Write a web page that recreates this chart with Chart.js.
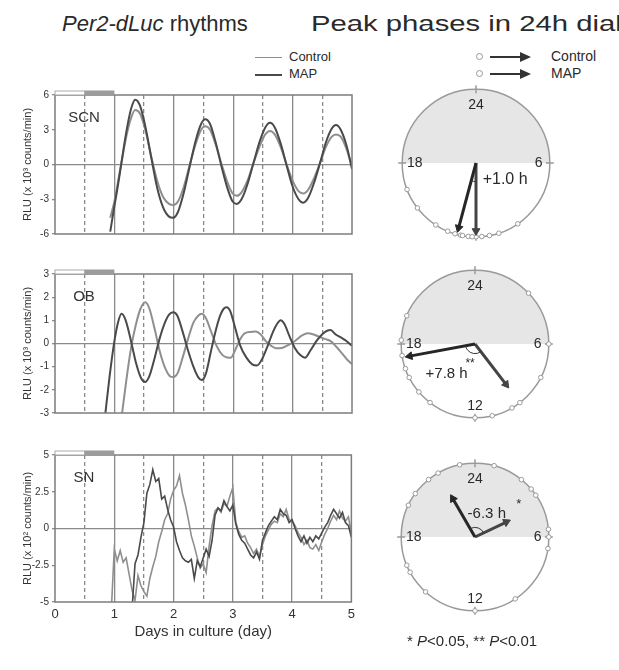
<!DOCTYPE html>
<html>
<head>
<meta charset="utf-8">
<script src="https://cdn.jsdelivr.net/npm/chart.js@4.4.0/dist/chart.umd.min.js"></script>
<style>
  body { margin: 0; width: 619px; height: 670px; background: #fff; position: relative; overflow: hidden;
         font-family: "Liberation Sans", Arial, sans-serif; color: #2a2a2a; }
  canvas { position: absolute; }
  .txt { position: absolute; white-space: nowrap; }
  .line { position: absolute; height: 0; }
  .dot { position: absolute; width: 5px; height: 5px; border: 1px solid #999; border-radius: 50%; }
  .arr { position: absolute; width: 31px; height: 2px; background: #333; }
  .arr::after { content: ''; position: absolute; right: -10px; top: -4px; border-left: 11px solid #333;
                border-top: 5px solid transparent; border-bottom: 5px solid transparent; }
</style>
</head>
<body>
<div class="txt" style="left:62px; top:11px; font-size:22px;"><i>Per2-dLuc</i> rhythms</div>
<div class="txt" style="left:311px; top:11px; font-size:22px; transform:scaleX(1.33); transform-origin:0 0;">Peak phases in 24h dial</div>

<div class="line" style="left:255px; top:57px; width:27px; border-top:1.5px solid #8f8f8f;"></div>
<div class="txt" style="left:289px; top:49px; font-size:13px;">Control</div>
<div class="line" style="left:255px; top:74px; width:27px; border-top:2px solid #4a4a4a;"></div>
<div class="txt" style="left:289px; top:66px; font-size:13px;">MAP</div>

<div class="dot" style="left:476px; top:53px;"></div>
<div class="arr" style="left:490px; top:56px;"></div>
<div class="txt" style="left:551px; top:48px; font-size:14px;">Control</div>
<div class="dot" style="left:476px; top:70px;"></div>
<div class="arr" style="left:490px; top:73px;"></div>
<div class="txt" style="left:551px; top:65px; font-size:14px;">MAP</div>

<canvas id="scn" width="360" height="158" style="left:0; top:85px;"></canvas>
<canvas id="ob" width="360" height="158" style="left:0; top:264px;"></canvas>
<canvas id="sn" width="360" height="200" style="left:0; top:445px;"></canvas>

<canvas id="dialScn" width="200" height="200" style="left:376px; top:63px;"></canvas>
<canvas id="dialOb" width="200" height="200" style="left:375px; top:244px;"></canvas>
<canvas id="dialSn" width="200" height="200" style="left:375px; top:437px;"></canvas>

<div class="txt" style="left:407px; top:632px; font-size:15px;">* <i>P</i>&lt;0.05, ** <i>P</i>&lt;0.01</div>

<script>
// --- traces (days in culture, RLU) ---
const dayTicks = [0, 0.5, 1, 1.5, 2, 2.5, 3, 3.5, 4, 4.5, 5];
const lightPhase = [0, 0.5];
const darkPhase = [0.5, 1];

const scnTicks = [-6, -3, 0, 3, 6];
const scnControlDays = [0.93, 1.00, 1.06, 1.12, 1.20, 1.28, 1.35, 1.43, 1.52, 1.62, 1.72, 1.82, 1.92, 1.99, 2.07, 2.17,
  2.27, 2.37, 2.46, 2.53, 2.61, 2.70, 2.80, 2.90, 2.99, 3.06, 3.14, 3.24, 3.34, 3.44, 3.54, 3.62, 3.70, 3.80, 3.90,
  4.00, 4.10, 4.18, 4.26, 4.36, 4.46, 4.56, 4.66, 4.73, 4.81, 4.91, 5.00];
const scnControl = [-4.6, -3.2, -1.5, 0.2, 2.4, 4.0, 4.7, 4.4, 3.0, 0.7, -1.4, -2.8, -3.4, -3.5, -3.2, -1.9,
  0.0, 1.8, 3.0, 3.3, 3.0, 1.8, 0.1, -1.5, -2.5, -2.7, -2.4, -1.4, 0.1, 1.5, 2.6, 2.9, 2.6, 1.5, 0.0,
  -1.4, -2.3, -2.5, -2.2, -1.2, 0.1, 1.5, 2.4, 2.6, 2.4, 1.3, -0.2];
const scnMapDays = scnControlDays;
const scnMap = [-5.8, -3.6, -1.8, 0.2, 2.8, 4.8, 5.6, 5.1, 3.3, 0.6, -2.0, -3.7, -4.5, -4.6, -4.1, -2.4,
  -0.1, 2.1, 3.5, 3.9, 3.5, 2.0, -0.1, -2.0, -3.2, -3.4, -3.0, -1.7, 0.1, 1.9, 3.2, 3.6, 3.2, 1.8, -0.1,
  -1.9, -3.0, -3.3, -2.9, -1.6, 0.1, 1.9, 3.1, 3.4, 3.0, 1.6, -0.4];

const obTicks = [-3, -2, -1, 0, 1, 2, 3];
const obControlDays = [1.12, 1.20, 1.28, 1.36, 1.44, 1.52, 1.59, 1.68, 1.77, 1.86, 1.93, 1.99, 2.06, 2.15, 2.24,
  2.33, 2.41, 2.47, 2.54, 2.63, 2.72, 2.82, 2.90, 2.96, 3.03, 3.12, 3.20, 3.30, 3.38, 3.46, 3.55, 3.64, 3.72,
  3.82, 3.90, 3.98, 4.06, 4.16, 4.26, 4.34, 4.44, 4.54, 4.64, 4.74, 4.84, 4.92, 5.00];
const obControl = [-3.2, -1.6, -0.2, 0.8, 1.5, 1.78, 1.5, 0.6, -0.4, -1.1, -1.4, -1.45, -1.3, -0.6, 0.2,
  0.9, 1.2, 1.28, 1.1, 0.5, -0.1, -0.5, -0.6, -0.61, -0.3, 0.2, 0.45, 0.5, 0.52, 0.4, 0.1, -0.1, -0.2,
  -0.19, -0.1, 0.0, 0.15, 0.35, 0.44, 0.4, 0.3, 0.2, 0.1, -0.15, -0.45, -0.7, -0.89];
const obMapDays = [0.84, 0.92, 1.00, 1.06, 1.12, 1.19, 1.28, 1.37, 1.45, 1.52, 1.59, 1.68, 1.76, 1.85, 1.92,
  1.99, 2.06, 2.15, 2.24, 2.33, 2.41, 2.47, 2.54, 2.62, 2.70, 2.78, 2.84, 2.89, 2.95, 3.03, 3.12, 3.22,
  3.32, 3.40, 3.48, 3.58, 3.67, 3.74, 3.80, 3.86, 3.95, 4.04, 4.13, 4.21, 4.30, 4.40, 4.50, 4.58, 4.64,
  4.72, 4.82, 4.91, 5.00];
const obMap = [-3.2, -1.4, 0.1, 0.9, 1.28, 1.0, 0.1, -0.9, -1.5, -1.66, -1.4, -0.6, 0.2, 0.9, 1.25,
  1.35, 1.2, 0.5, -0.3, -1.0, -1.45, -1.58, -1.3, -0.4, 0.5, 1.2, 1.5, 1.57, 1.4, 0.7, -0.1, -0.6,
  -0.9, -0.95, -0.7, -0.1, 0.5, 0.85, 1.0, 0.85, 0.3, -0.2, -0.5, -0.61, -0.3, 0.1, 0.4, 0.55, 0.58,
  0.4, 0.25, 0.1, -0.1];

const snTicks = [-5, -2.5, 0, 2.5, 5];
const snDays = [0.95, 1.00, 1.05, 1.10, 1.15, 1.20, 1.25, 1.30, 1.35, 1.40,
  1.45, 1.50, 1.55, 1.60, 1.65, 1.70, 1.75, 1.80, 1.85, 1.90,
  1.95, 2.00, 2.05, 2.10, 2.15, 2.20, 2.25, 2.30, 2.35, 2.40,
  2.45, 2.50, 2.55, 2.60, 2.65, 2.70, 2.75, 2.80, 2.85, 2.90,
  2.95, 3.00, 3.05, 3.10, 3.15, 3.20, 3.25, 3.30, 3.35, 3.40,
  3.45, 3.50, 3.55, 3.60, 3.65, 3.70, 3.75, 3.80, 3.85, 3.90,
  3.95, 4.00, 4.05, 4.10, 4.15, 4.20, 4.25, 4.30, 4.35, 4.40,
  4.45, 4.50, 4.55, 4.60, 4.65, 4.70, 4.75, 4.80, 4.85, 4.90,
  4.95, 5.00];
const snControl = [-5.6, -1.4, -2.2, -1.5, -2.3, -2.0, -3.1, -4.2, -4.9, -3.2,
  -3.9, -4.3, -4.6, -3.4, -2.6, -1.9, -0.9, -0.2, 0.6, 1.0,
  2.0, 2.6, 2.9, 3.6, 2.4, 1.6, 0.6, -0.5, -1.2, -2.0,
  -2.7, -2.4, -3.0, -1.2, 0.2, 1.2, 1.4, 1.1, 1.7, 1.5,
  2.2, 2.8, 0.4, -0.2, -0.6, -0.5, -1.0, -1.3, -1.7, -1.4,
  -1.9, -1.1, -0.5, -0.1, 0.3, 0.5, 0.4, 1.0, 0.8, 1.3,
  0.6, 0.5, 0.2, -0.3, -0.6, -1.1, -0.8, -1.3, -1.4, -1.1,
  -1.5, -0.9, -0.4, 0.0, 0.5, 0.9, 0.6, 1.2, 0.7, 0.5,
  0.8, -0.3];
const snMap = [null, null, null, null, null, null, null, -5.5, -2.4, -1.8,
  -0.6, 0.4, 2.4, 3.0, 4.0, 3.2, 3.4, 2.0, 2.2, 1.3,
  0.6, 0.1, -0.9, -1.5, -2.0, -2.2, -2.3, -2.1, -3.4, -2.2,
  -2.6, -2.0, -1.4, -1.9, -0.8, 0.9, 1.4, 1.2, 1.9, 1.5,
  1.2, 1.6, 0.3, -0.4, -0.8, -1.0, -1.4, -1.8, -2.0, -1.6,
  -2.1, -0.8, -0.3, 0.2, 0.5, 0.8, 0.6, 1.3, 1.0, 0.9,
  0.4, 0.6, 0.0, -0.5, -0.9, -0.5, -1.0, -0.6, -0.9, -0.5,
  -0.7, -0.3, 0.1, 0.4, 0.9, 1.3, 1.0, 0.7, 1.1, 0.4,
  0.2, -0.6];

// --- peak phases (hours on the 24h dial) ---
const dialScnControlPhases = [9.7, 10.8, 11.3, 11.7, 12.0, 12.4, 12.8];
const dialScnMapPhases = [12.2, 12.7, 13.1, 13.5, 14.2, 15.5, 16.6];
const dialScnMean = { control: 12.0, map: 13.0 };
const dialScnLength = { control: 0.92, map: 0.91 };

const dialObControlPhases = [3.1, 6.0, 7.8, 9.5, 10.0, 11.1, 12.0];
const dialObMapPhases = [14.5, 15.3, 16.2, 16.7, 17.4, 18.2, 19.5];
const dialObMean = { control: 9.5, map: 17.3 };
const dialObLength = { control: 0.69, map: 0.9 };

const dialSnControlPhases = [1.0, 2.6, 3.3, 3.7, 5.6, 6.0, 6.6, 9.8];
const dialSnMapPhases = [12.0, 14.8, 16.1, 16.5, 19.7, 20.4, 21.4, 22.0, 23.2];
const dialSnMean = { control: 4.3, map: 22.0 };
const dialSnLength = { control: 0.47, map: 0.6 };

const controlColor = '#8f8f8f';
const mapColor = '#4a4a4a';
const fontFamily = '"Liberation Sans", Arial, sans-serif';

function pairs(xs, ys) {
  return xs.map((x, i) => ({ x: x, y: ys[i] }));
}

const panelDecor = {
  id: 'panelDecor',
  afterDraw(chart, args, opts) {
    const { ctx, chartArea: a, scales: { x } } = chart;
    ctx.save();
    ctx.strokeStyle = '#7c7c7c';
    ctx.lineWidth = 1.5;
    ctx.strokeRect(a.left, a.top, a.right - a.left, a.bottom - a.top);
    // light / dark bar above the plot
    const l0 = x.getPixelForValue(lightPhase[0]);
    const l1 = x.getPixelForValue(lightPhase[1]);
    const d1 = x.getPixelForValue(darkPhase[1]);
    ctx.fillStyle = '#fff';
    ctx.fillRect(l0, a.top - 4, l1 - l0, 4);
    ctx.lineWidth = 1;
    ctx.strokeStyle = '#aaa';
    ctx.strokeRect(l0, a.top - 4, l1 - l0, 4);
    ctx.fillStyle = '#9c9c9c';
    ctx.fillRect(l1, a.top - 4.5, d1 - l1, 4.5);
    ctx.fillStyle = '#333';
    ctx.font = '15px ' + fontFamily;
    ctx.textAlign = 'center';
    ctx.fillText(opts.label, a.left + 29, a.top + 27);
    ctx.restore();
  }
};

function traceChart(id, p) {
  return new Chart(document.getElementById(id), {
    type: 'line',
    data: {
      datasets: [
        { label: 'MAP', data: pairs(p.mapDays, p.map), borderColor: mapColor, borderWidth: p.smooth ? 2 : 1.6,
          pointRadius: 0, cubicInterpolationMode: p.smooth ? 'monotone' : 'default', tension: 0 },
        { label: 'Control', data: pairs(p.controlDays, p.control), borderColor: controlColor, borderWidth: p.smooth ? 2 : 1.6,
          pointRadius: 0, cubicInterpolationMode: p.smooth ? 'monotone' : 'default', tension: 0 }
      ]
    },
    options: {
      responsive: false,
      animation: false,
      devicePixelRatio: 1,
      layout: { padding: { top: 10, right: 8, left: 0, bottom: 0 } },
      plugins: { legend: { display: false }, tooltip: { enabled: false }, panelDecor: { label: p.label } },
      scales: {
        x: {
          type: 'linear', min: 0, max: 5,
          afterBuildTicks: s => { s.ticks = dayTicks.map(v => ({ value: v })); },
          afterFit: s => { s.height = p.xHeight; },
          grid: {
            color: ctx => (ctx.tick && ctx.tick.value > 0 && ctx.tick.value < 5) ? '#8a8a8a' : 'rgba(0,0,0,0)',
            lineWidth: 1.3, drawTicks: false
          },
          border: { display: false, dash: ctx => (ctx.tick && ctx.tick.value % 1 !== 0) ? [4, 3] : [] },
          ticks: {
            display: p.showX, autoSkip: false, maxRotation: 0, padding: 5, color: '#333',
            font: { size: 13, family: fontFamily },
            callback: v => Number.isInteger(v) ? v : ''
          },
          title: { display: p.showX, text: 'Days in culture (day)', color: '#333', padding: { top: 3 },
                   font: { size: 15, family: fontFamily } }
        },
        y: {
          min: p.ticks[0], max: p.ticks[p.ticks.length - 1],
          afterBuildTicks: s => { s.ticks = p.ticks.map(v => ({ value: v })); },
          afterFit: s => { s.width = 55; },
          grid: {
            color: ctx => (ctx.tick && ctx.tick.value === 0) ? '#8a8a8a' : 'rgba(0,0,0,0)',
            lineWidth: 1.3, tickLength: 3, tickColor: '#8a8a8a'
          },
          border: { display: false },
          ticks: { color: '#333', padding: 3, font: { size: 10, family: fontFamily } },
          title: { display: true, text: p.yTitle, color: '#333', padding: { top: 21, bottom: 0 },
                   font: { size: 11, family: fontFamily } }
        }
      }
    },
    plugins: [panelDecor]
  });
}

traceChart('scn', { label: 'SCN', controlDays: scnControlDays, control: scnControl, mapDays: scnMapDays, map: scnMap,
  ticks: scnTicks, smooth: true, showX: false, xHeight: 5, yTitle: 'RLU (x 10\u00b3 counts/min)' });
traceChart('ob', { label: 'OB', controlDays: obControlDays, control: obControl, mapDays: obMapDays, map: obMap,
  ticks: obTicks, smooth: true, showX: false, xHeight: 5, yTitle: 'RLU (x 10\u00b3 counts/min)' });
traceChart('sn', { label: 'SN', controlDays: snDays, control: snControl, mapDays: snDays, map: snMap,
  ticks: snTicks, smooth: false, showX: true, xHeight: 43, yTitle: 'RLU (x 10\u00b2 counts/min)' });

// --- dials ---
function onDial(h, len) {
  const a = h * Math.PI / 12;
  return { x: len * Math.sin(a), y: len * Math.cos(a) };
}

const dialDecor = {
  id: 'dialDecor',
  beforeDatasetsDraw(chart, args, o) {
    const { ctx, scales: { x, y } } = chart;
    const cx = x.getPixelForValue(0), cy = y.getPixelForValue(0);
    const r = x.getPixelForValue(1) - cx;
    ctx.save();
    ctx.fillStyle = '#e6e6e6';
    ctx.beginPath();
    ctx.arc(cx, cy, r, Math.PI, 2 * Math.PI);
    ctx.closePath();
    ctx.fill();
    ctx.strokeStyle = '#9a9a9a';
    ctx.lineWidth = 1.5;
    ctx.beginPath();
    ctx.arc(cx, cy, r, 0, 2 * Math.PI);
    ctx.stroke();
    [0, 6, 12, 18].forEach(h => {
      const a = h * Math.PI / 12;
      ctx.beginPath();
      ctx.moveTo(cx + (r - 4) * Math.sin(a), cy - (r - 4) * Math.cos(a));
      ctx.lineTo(cx + (r + 4) * Math.sin(a), cy - (r + 4) * Math.cos(a));
      ctx.stroke();
    });
    const spots = { '24': [0, 0.78], '6': [0.85, 0], '12': [0, -0.84], '18': [-0.83, 0] };
    ctx.fillStyle = '#2a2a2a';
    ctx.font = '14px ' + fontFamily;
    ctx.textAlign = 'center';
    ctx.textBaseline = 'middle';
    o.hours.forEach(h => {
      const s = spots[h];
      ctx.fillText(h, x.getPixelForValue(s[0]), y.getPixelForValue(s[1]));
    });
    ctx.restore();
  },
  afterDatasetsDraw(chart, args, o) {
    const { ctx, scales: { x, y } } = chart;
    const cx = x.getPixelForValue(0), cy = y.getPixelForValue(0);
    const r = x.getPixelForValue(1) - cx;
    ctx.save();
    let shift = o.mean.map - o.mean.control;
    if (shift > 12) shift -= 24;
    if (shift < -12) shift += 24;
    const a0 = o.mean.control * Math.PI / 12 - Math.PI / 2;
    const a1 = o.mean.map * Math.PI / 12 - Math.PI / 2;
    ctx.strokeStyle = '#333';
    ctx.lineWidth = 1;
    ctx.beginPath();
    ctx.arc(cx, cy, r * o.arcRadius, a0, a1, shift < 0);
    ctx.stroke();
    ctx.fillStyle = '#2a2a2a';
    ctx.textBaseline = 'middle';
    ctx.textAlign = 'left';
    o.notes.forEach(n => {
      ctx.font = n.size + 'px ' + fontFamily;
      ctx.fillText(n.text, x.getPixelForValue(n.at[0]), y.getPixelForValue(n.at[1]));
    });
    ctx.restore();
  }
};

function dialChart(id, d) {
  const arrow = (h, len, color) => ({
    type: 'line', showLine: true, data: [{ x: 0, y: 0 }, onDial(h, len)],
    borderColor: color, borderWidth: 3,
    pointRadius: [0, 4.5], pointStyle: 'triangle', pointRotation: [0, h * 15],
    pointBackgroundColor: color, pointBorderColor: color, pointBorderWidth: 1
  });
  const dots = (phases) => ({
    type: 'scatter', data: phases.map(h => onDial(h, 1)),
    pointRadius: 2.3, pointBackgroundColor: '#fff', pointBorderColor: '#9a9a9a', pointBorderWidth: 1
  });
  return new Chart(document.getElementById(id), {
    type: 'scatter',
    data: {
      datasets: [
        arrow(d.mean.map, d.length.map, '#262626'),
        arrow(d.mean.control, d.length.control, '#444'),
        dots(d.map),
        dots(d.control)
      ]
    },
    options: {
      responsive: false,
      animation: false,
      devicePixelRatio: 1,
      layout: { padding: 0 },
      plugins: {
        legend: { display: false }, tooltip: { enabled: false },
        dialDecor: { hours: d.hours, mean: d.mean, notes: d.notes, arcRadius: d.arcRadius }
      },
      scales: {
        x: { type: 'linear', min: -1.28, max: 1.28, display: false },
        y: { type: 'linear', min: -1.28, max: 1.28, display: false }
      }
    },
    plugins: [dialDecor]
  });
}

dialChart('dialScn', { control: dialScnControlPhases, map: dialScnMapPhases, mean: dialScnMean, length: dialScnLength,
  hours: ['24', '6', '18'], arcRadius: 0.25,
  notes: [{ text: '+1.0 h', at: [0.09, -0.22], size: 16 }] });
dialChart('dialOb', { control: dialObControlPhases, map: dialObMapPhases, mean: dialObMean, length: dialObLength,
  hours: ['24', '6', '12', '18'], arcRadius: 0.13,
  notes: [{ text: '+7.8 h', at: [-0.67, -0.41], size: 15 }, { text: '**', at: [-0.13, -0.27], size: 12 }] });
dialChart('dialSn', { control: dialSnControlPhases, map: dialSnMapPhases, mean: dialSnMean, length: dialSnLength,
  hours: ['24', '6', '12', '18'], arcRadius: 0.13,
  notes: [{ text: '-6.3 h', at: [-0.1, 0.31], size: 15 }, { text: '*', at: [0.56, 0.44], size: 13 }] });
</script>
</body>
</html>
